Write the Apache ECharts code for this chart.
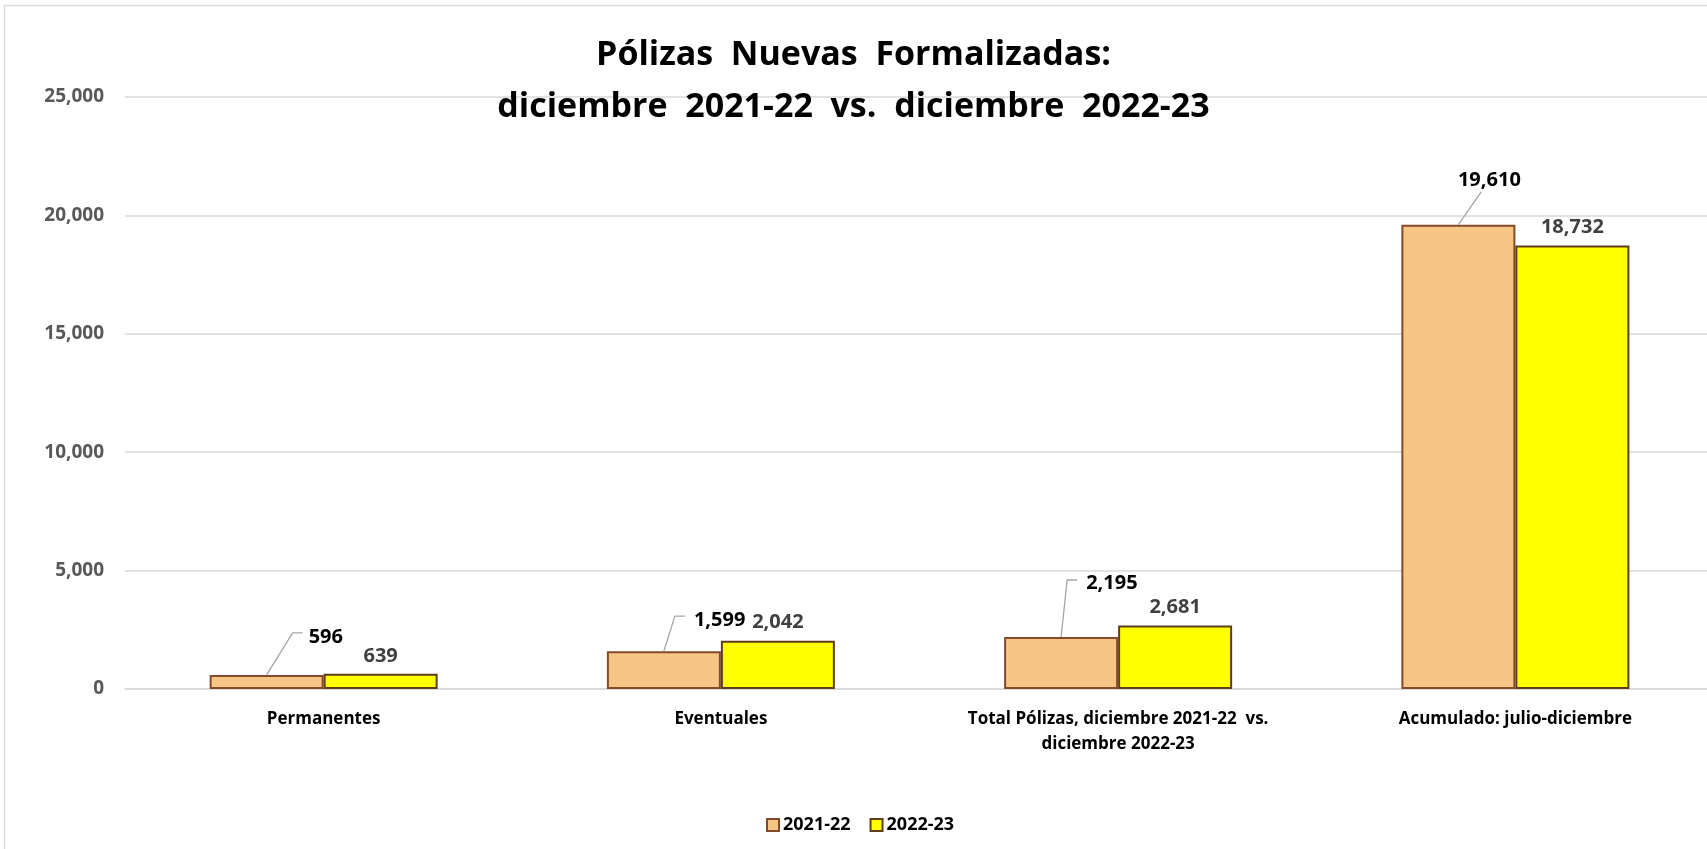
<!DOCTYPE html>
<html>
<head>
<meta charset="utf-8">
<script src="https://cdn.jsdelivr.net/npm/echarts@6/dist/echarts.min.js"></script>
<style>
  html, body { margin: 0; padding: 0; background: #fff; }
  #chart { width: 1707px; height: 849px; }
</style>
</head>
<body>
<div id="chart"></div>
<script>
'use strict';

var categories = ['Permanentes', 'Eventuales', 'Total Pólizas, diciembre 2021-22  vs.\ndiciembre 2022-23', 'Acumulado: julio-diciembre'];
var seriesNames = ['2021-22', '2022-23'];
var values2122 = [596, 1599, 2195, 19610];
var values2223 = [639, 2042, 2681, 18732];
var yTicks = [0, 5000, 10000, 15000, 20000, 25000];

// label offsets for the 2021-22 call-outs (px from bar top centre)
var calloutLayout = [
  { lx: 26, ly: -42, tail: 10, tx: 42, ty: -38, align: 'left' },
  { lx: 11, ly: -35, tail: 10, tx: 30, ty: -31, align: 'left' },
  { lx: 6, ly: -57, tail: 10, tx: 25, ty: -54, align: 'left' },
  { lx: 23, ly: -33, tail: 0, tx: 31, ty: -44, align: 'center' }
];

var FONT = '"Open Sans", "Noto Sans", sans-serif';
var BAR_W = 114;

function fmt(v) {
  return v.toLocaleString('en-US');
}

var myChart = echarts.init(document.getElementById('chart'));

var option = {
  backgroundColor: '#fff',
  textStyle: { fontFamily: FONT },
  graphic: [{
    type: 'rect',
    shape: { x: 4.5, y: 5.5, width: 1720, height: 860 },
    style: { fill: 'none', stroke: '#d9d9d9', lineWidth: 1.5 },
    silent: true
  }],
  title: {
    text: 'Pólizas  Nuevas  Formalizadas:\ndiciembre  2021-22  vs.  diciembre  2022-23',
    left: 'center',
    top: 24,
    textStyle: {
      fontFamily: FONT,
      fontSize: 34,
      fontWeight: 'bold',
      color: '#000',
      lineHeight: 52
    }
  },
  legend: {
    data: seriesNames,
    top: 811,
    left: 761,
    icon: 'rect',
    itemWidth: 12,
    itemHeight: 12,
    itemGap: 19,
    textStyle: { fontFamily: FONT, fontSize: 18, fontWeight: 'bold', color: '#000', padding: [0, 0, 0, -1] }
  },
  grid: { left: 125, top: 97, width: 1589, height: 592, outerBoundsMode: 'none' },
  xAxis: {
    type: 'category',
    data: categories,
    axisLine: { lineStyle: { color: '#d9d9d9', width: 1.5 } },
    axisTick: { show: false },
    axisLabel: {
      interval: 0,
      margin: 18,
      fontFamily: FONT,
      fontSize: 17,
      fontWeight: 'bold',
      color: '#000',
      lineHeight: 25
    }
  },
  yAxis: {
    type: 'value',
    min: yTicks[0],
    max: yTicks[yTicks.length - 1],
    interval: yTicks[1] - yTicks[0],
    axisLine: { show: false },
    axisTick: { show: false },
    splitLine: { lineStyle: { color: '#d9d9d9', width: 1.5 } },
    axisLabel: {
      margin: 21,
      fontFamily: FONT,
      fontSize: 19,
      fontWeight: 'bold',
      color: '#595959',
      formatter: function (v) { return fmt(v); }
    }
  },
  series: [
    {
      name: seriesNames[0],
      type: 'bar',
      data: values2122,
      barWidth: BAR_W,
      barGap: '0%',
      itemStyle: { color: '#F5C684', borderColor: '#85492B', borderWidth: 2 }
    },
    {
      name: seriesNames[1],
      type: 'bar',
      data: values2223,
      barWidth: BAR_W,
      barGap: '0%',
      itemStyle: { color: '#FFFF00', borderColor: '#5E3C1E', borderWidth: 2 },
      label: {
        show: true,
        position: 'top',
        distance: 8,
        fontFamily: FONT,
        fontSize: 20,
        fontWeight: 'bold',
        color: '#404040',
        formatter: function (p) { return fmt(p.value); }
      }
    },
    {
      // call-out labels of the 2021-22 bars, with leader lines
      type: 'custom',
      name: 'callouts',
      silent: true,
      z: 5,
      data: values2122.map(function (v, i) { return [i, v]; }),
      renderItem: function (params, api) {
        var i = api.value(0);
        var pt = api.coord([i, api.value(1)]);
        var bx = pt[0] - BAR_W / 2;
        var by = pt[1];
        var c = calloutLayout[params.dataIndex];
        var pts = [[bx, by], [bx + c.lx, by + c.ly]];
        if (c.tail) pts.push([bx + c.lx + c.tail, by + c.ly]);
        return {
          type: 'group',
          children: [
            {
              type: 'polyline',
              shape: { points: pts },
              style: { stroke: '#a6a6a6', lineWidth: 1.3, fill: 'none' }
            },
            {
              type: 'text',
              x: bx + c.tx,
              y: by + c.ty,
              style: {
                text: fmt(api.value(1)),
                fontFamily: FONT,
                fontSize: 20,
                fontWeight: 'bold',
                fill: '#000',
                align: c.align,
                verticalAlign: 'middle'
              }
            }
          ]
        };
      }
    }
  ]
};

myChart.setOption(option);

window.addEventListener('resize', function () {
  myChart.resize();
});
</script>
</body>
</html>
